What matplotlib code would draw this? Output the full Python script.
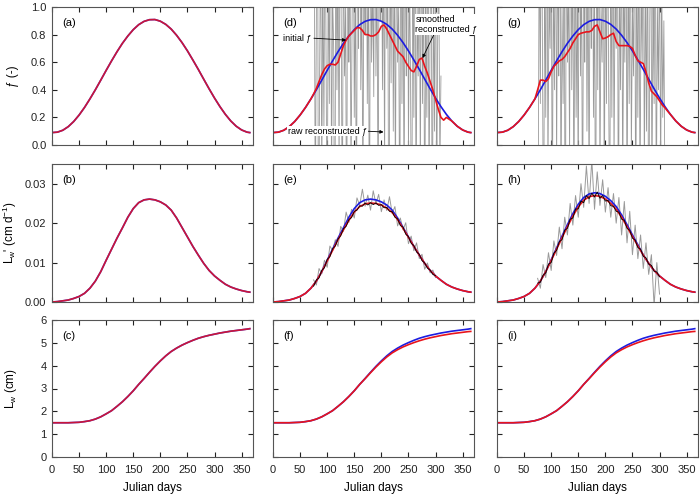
import numpy as np
import matplotlib
matplotlib.use('Agg')
import matplotlib.pyplot as plt

plt.rcParams['font.family'] = ['Liberation Sans', 'DejaVu Sans']
plt.rcParams['mathtext.default'] = 'regular'

# dias julianos (grade de 10 dias + ultimo dia)
julian = np.append(np.arange(0, 361, 10), 365)

# f verdadeiro (paineis a, d, g)
f_true = [0.090, 0.093, 0.107, 0.133, 0.170, 0.217, 0.272, 0.334, 0.400, 0.470,
          0.541, 0.610, 0.676, 0.737, 0.790, 0.836, 0.872, 0.896, 0.908, 0.909,
          0.897, 0.874, 0.840, 0.795, 0.742, 0.682, 0.616, 0.548, 0.477, 0.407,
          0.340, 0.278, 0.222, 0.174, 0.136, 0.109, 0.093, 0.090]

# taxa de crescimento Lw' (cm/d)
lw_rate = [0.0000, 0.0001, 0.0003, 0.0005, 0.0009, 0.0014, 0.0022, 0.0035, 0.0053, 0.0077,
           0.0106, 0.0134, 0.0162, 0.0188, 0.0215, 0.0237, 0.0252, 0.0259, 0.0261, 0.0259,
           0.0254, 0.0246, 0.0233, 0.0213, 0.0189, 0.0165, 0.0141, 0.0119, 0.0098, 0.0080,
           0.0066, 0.0055, 0.0045, 0.0038, 0.0033, 0.0029, 0.0026, 0.0025]

# comprimento Lw (cm)
lw = [1.50, 1.50, 1.50, 1.50, 1.51, 1.52, 1.55, 1.59, 1.66, 1.76,
      1.89, 2.03, 2.22, 2.42, 2.65, 2.90, 3.18, 3.44, 3.71, 3.97,
      4.21, 4.43, 4.62, 4.77, 4.90, 5.01, 5.11, 5.20, 5.27, 5.33,
      5.38, 5.43, 5.47, 5.51, 5.54, 5.57, 5.60, 5.62]
lw_rec = [1.50, 1.50, 1.50, 1.50, 1.51, 1.52, 1.55, 1.59, 1.66, 1.76,
          1.89, 2.03, 2.22, 2.42, 2.65, 2.90, 3.18, 3.43, 3.69, 3.94,
          4.17, 4.38, 4.56, 4.70, 4.82, 4.92, 5.01, 5.09, 5.16, 5.22,
          5.27, 5.32, 5.36, 5.40, 5.43, 5.46, 5.49, 5.50]

# f suavizado reconstruido (janela de 5 dias)
win5 = np.arange(70, 321, 5)
f_smooth_d = [0.334, 0.37, 0.41, 0.46, 0.51, 0.55,
              0.575, 0.585, 0.585, 0.58, 0.60, 0.66, 0.72, 0.76, 0.79, 0.81,
              0.83, 0.85, 0.85, 0.83, 0.80, 0.80, 0.79, 0.79, 0.80, 0.82,
              0.86, 0.87, 0.84, 0.80, 0.76, 0.72, 0.68, 0.66, 0.64, 0.60,
              0.57, 0.54, 0.53, 0.57, 0.62, 0.63, 0.57, 0.52, 0.46, 0.40,
              0.33, 0.26, 0.20, 0.18, 0.20]
f_smooth_g = [0.334, 0.40, 0.47, 0.47, 0.46, 0.48,
              0.53, 0.57, 0.59, 0.61, 0.62, 0.64, 0.67, 0.70, 0.74, 0.77,
              0.80, 0.81, 0.815, 0.82, 0.82, 0.83, 0.86, 0.87, 0.82, 0.77,
              0.775, 0.785, 0.80, 0.81, 0.75, 0.72, 0.72, 0.72, 0.72, 0.715,
              0.70, 0.65, 0.61, 0.60, 0.59, 0.53, 0.45, 0.39, 0.37, 0.35,
              0.32, 0.29, 0.27, 0.245, 0.222]

# f bruto reconstruido (a cada 2 dias)
raw_days = np.arange(76, 311, 2)
raw_f_d = [1.8, -0.6, 0.9, 2.4, -1.2, 0.5, 1.6, -0.3, 1.2, 0.1,
           2.0, 0.6, -0.9, 1.4, 0.3, 2.6, -0.4, 1.1, 0.7, -1.5,
           1.9, 0.4, 1.3, -0.2, 2.2, 0.8, -0.7, 1.7, 0.5, 1.0,
           -1.1, 2.5, 0.6, 1.5, -0.3, 0.9, 2.1, 0.2, 1.2, -0.8,
           1.8, 0.7, 2.9, 0.4, 1.1, -0.5, 1.6, 0.8, 2.3, 0.3,
           1.4, -1.0, 1.9, 0.6, 1.2, 0.35, 2.7, 0.5, 1.3, -0.6,
           1.7, 0.9, 2.0, 0.4, 1.5, -0.2, 2.4, 0.7, 1.1, -1.3,
           1.6, 0.45, 2.2, 0.1, 1.4, -0.4, 1.9, 0.6, 1.0, -0.9,
           2.3, 0.3, 1.2, -0.5, 1.8, 0.5, 2.6, -0.1, 1.3, 0.4,
           -1.2, 1.7, 0.2, 2.1, -0.6, 1.0, 0.5, 1.6, -0.3, 2.0,
           0.3, 1.4, -0.8, 1.1, 0.2, 1.9, -0.4, 0.9, 1.5, -1.0,
           1.2, 0.1, 1.8, -0.5, 0.8, 1.3, -0.2, 0.5]
raw_f_g = [-0.5, 1.7, 0.3, 2.2, 0.6, -1.0, 1.4, 0.2, 2.5, -0.3,
           1.1, 0.7, 1.9, -0.8, 1.3, 0.4, 2.1, -0.2, 1.6, 0.5,
           2.8, -0.6, 1.0, 0.3, 1.7, -1.4, 2.0, 0.6, 1.2, -0.1,
           2.4, 0.4, 1.5, -0.7, 1.8, 0.2, 1.1, -0.4, 2.6, 0.5,
           1.3, -0.9, 1.9, 0.6, 2.2, 0.1, 1.4, -0.5, 1.7, 0.7,
           2.5, 0.2, 1.2, -1.1, 1.8, 0.4, 2.0, -0.3, 1.0, 0.6,
           2.3, -0.6, 1.5, 0.3, 1.9, 0.5, -0.8, 1.6, 0.2, 2.1,
           -0.2, 1.2, 0.7, 2.4, -1.0, 1.3, 0.4, 1.8, -0.4, 1.1,
           0.6, 2.2, -0.7, 1.4, 0.3, 1.9, -0.1, 1.0, 0.5, 2.3,
           -0.9, 1.5, 0.2, 1.7, -0.5, 1.2, 0.6, 2.0, -0.3, 1.3,
           0.1, 1.8, -1.2, 0.9, 1.6, -0.4, 1.1, 0.3, 2.1, -0.6,
           1.0, 0.4, 1.5, -0.3, 1.2, 0.2, 0.9, -0.4]

# Lw' reconstruido perto do pico (janela de 10 dias)
win10 = np.arange(100, 261, 10)
rate_rec_e = [0.0104, 0.0131, 0.0158, 0.0183, 0.0207, 0.0228, 0.0242, 0.0249, 0.0251,
              0.0250, 0.0246, 0.0238, 0.0227, 0.0209, 0.0187, 0.0164, 0.0141]
rate_true_h = [0.0107, 0.0137, 0.0167, 0.0196, 0.0224, 0.0248, 0.0265, 0.0274, 0.0277,
               0.0275, 0.0268, 0.0257, 0.0242, 0.0221, 0.0196, 0.0170, 0.0145]
rate_rec_h = [0.0105, 0.0134, 0.0163, 0.0191, 0.0218, 0.0241, 0.0258, 0.0267, 0.0270,
              0.0268, 0.0261, 0.0250, 0.0235, 0.0215, 0.0191, 0.0166, 0.0142]

# Lw' com ruido (a cada 5 dias)
noisy_days = np.arange(75, 301, 5)
gray_e = [0.0056, 0.0043, 0.0085, 0.0071, 0.0106, 0.0088, 0.0142, 0.0130, 0.0158, 0.0141,
          0.0192, 0.0179, 0.0228, 0.0202, 0.0235, 0.0213, 0.0264, 0.0245, 0.0286, 0.0243,
          0.0271, 0.0233, 0.0282, 0.0249, 0.0273, 0.0229, 0.0259, 0.0232, 0.0267, 0.0225,
          0.0242, 0.0193, 0.0213, 0.0183, 0.0201, 0.0148, 0.0167, 0.0130, 0.0150, 0.0110,
          0.0121, 0.0083, 0.0099, 0.0074, 0.0081, 0.0062]
black_e = [0.0040, 0.0056, 0.0061, 0.0080, 0.0087, 0.0108, 0.0115, 0.0135, 0.0142, 0.0160,
           0.0168, 0.0186, 0.0192, 0.0209, 0.0214, 0.0230, 0.0233, 0.0244, 0.0243, 0.0251,
           0.0246, 0.0252, 0.0247, 0.0251, 0.0245, 0.0247, 0.0239, 0.0240, 0.0230, 0.0229,
           0.0215, 0.0211, 0.0194, 0.0190, 0.0172, 0.0166, 0.0149, 0.0143, 0.0127, 0.0121,
           0.0105, 0.0099, 0.0086, 0.0081, 0.0070, 0.0067]
gray_h = [0.0060, 0.0035, 0.0095, 0.0062, 0.0125, 0.0080, 0.0155, 0.0118, 0.0190, 0.0135,
          0.0215, 0.0170, 0.0250, 0.0195, 0.0270, 0.0215, 0.0300, 0.0240, 0.0345, 0.0250,
          0.0360, 0.0235, 0.0330, 0.0245, 0.0310, 0.0228, 0.0290, 0.0215, 0.0275, 0.0200,
          0.0265, 0.0170, 0.0255, 0.0150, 0.0230, 0.0120, 0.0195, 0.0110, 0.0170, 0.0085,
          0.0150, 0.0070, 0.0120, -0.0010, 0.0100, 0.0020]
black_h = [0.0048, 0.0050, 0.0068, 0.0074, 0.0096, 0.0100, 0.0124, 0.0131, 0.0153, 0.0158,
           0.0182, 0.0187, 0.0210, 0.0213, 0.0236, 0.0236, 0.0256, 0.0252, 0.0270, 0.0262,
           0.0276, 0.0266, 0.0279, 0.0263, 0.0270, 0.0256, 0.0258, 0.0244, 0.0243, 0.0230,
           0.0228, 0.0210, 0.0207, 0.0187, 0.0182, 0.0162, 0.0157, 0.0138, 0.0134, 0.0116,
           0.0112, 0.0096, 0.0093, 0.0078, 0.0076, 0.0064]

AZUL = '#1c1ce0'
VERM = '#e8141c'
CINZA = '#9a9a9a'


def emendar(win_days, win_vals, base):
    # junta a serie base (fora da janela) com os valores da janela
    d = np.asarray(julian)
    b = np.asarray(base)
    lo = d < win_days[0]
    hi = d > win_days[-1]
    x = np.concatenate([d[lo], win_days, d[hi]])
    y = np.concatenate([b[lo], win_vals, b[hi]])
    return x, y


fig = plt.figure(figsize=(7.0, 4.96), dpi=100)

esq = [52, 273, 497]
topo = [7, 164, 320]
alt = [138, 138, 137]
larg = 201

axs = []
for r in range(3):
    linha = []
    for c in range(3):
        ax = fig.add_axes([esq[c] / 700, 1 - (topo[r] + alt[r]) / 496, larg / 700, alt[r] / 496])
        linha.append(ax)
    axs.append(linha)

letras = [['(a)', '(d)', '(g)'], ['(b)', '(e)', '(h)'], ['(c)', '(f)', '(i)']]

# linha 1: f
axs[0][0].plot(julian, f_true, color=AZUL, lw=1.2)
axs[0][0].plot(julian, f_true, color=VERM, lw=1.2, alpha=0.85)
for ax, raw, sm in [(axs[0][1], raw_f_d, f_smooth_d), (axs[0][2], raw_f_g, f_smooth_g)]:
    ax.plot(raw_days, raw, color=CINZA, lw=0.6)
    ax.plot(julian, f_true, color=AZUL, lw=1.2)
    x, y = emendar(win5, sm, f_true)
    ax.plot(x, y, color=VERM, lw=1.2)

# linha 2: Lw'
axs[1][0].plot(julian, lw_rate, color=AZUL, lw=1.2)
axs[1][0].plot(julian, lw_rate, color=VERM, lw=1.2, alpha=0.85)

ax = axs[1][1]
ax.plot(noisy_days, gray_e, color=CINZA, lw=0.7)
ax.plot(julian, lw_rate, color=AZUL, lw=1.2)
x, y = emendar(win10, rate_rec_e, lw_rate)
ax.plot(x, y, color=VERM, lw=1.2)
ax.plot(noisy_days, black_e, color='black', lw=0.6)

ax = axs[1][2]
ax.plot(noisy_days, gray_h, color=CINZA, lw=0.7)
x, y = emendar(win10, rate_true_h, lw_rate)
ax.plot(x, y, color=AZUL, lw=1.2)
x, y = emendar(win10, rate_rec_h, lw_rate)
ax.plot(x, y, color=VERM, lw=1.2)
ax.plot(noisy_days, black_h, color='black', lw=0.6)

# linha 3: Lw
axs[2][0].plot(julian, lw, color=AZUL, lw=1.2)
axs[2][0].plot(julian, lw, color=VERM, lw=1.2, alpha=0.85)
for ax in axs[2][1:]:
    ax.plot(julian, lw, color=AZUL, lw=1.2)
    ax.plot(julian, lw_rec, color=VERM, lw=1.2)

# eixos
ylims = [(0, 1.0), (0, 0.035), (0, 6)]
yticks = [np.arange(0, 1.01, 0.2), [0, 0.01, 0.02, 0.03], np.arange(0, 7, 1)]
yfmt = ['{:.1f}', '{:.2f}', '{:.0f}']
for r in range(3):
    for c in range(3):
        ax = axs[r][c]
        ax.set_xlim(0, 371)
        ax.set_ylim(*ylims[r])
        ax.set_xticks(np.arange(0, 351, 50))
        ax.set_yticks(yticks[r])
        ax.tick_params(direction='in', top=True, right=True, length=3.5, width=0.8,
                       labelsize=8, colors='#222222', pad=4)
        ax.tick_params(axis='x', pad=6)
        for s in ax.spines.values():
            s.set_color('#555555')
            s.set_linewidth(0.8)
        if c == 0:
            ax.set_yticklabels([yfmt[r].format(v) for v in yticks[r]])
        else:
            ax.set_yticklabels([])
        if r == 2:
            ax.set_xlabel('Julian days', fontsize=8.5, labelpad=5)
        else:
            ax.set_xticklabels([])
        ax.text(0.05, 0.885, letras[r][c], transform=ax.transAxes, fontsize=8, va='center')

rotulos = ['ƒ (-)', "L$_w$' (cm d$^{-1}$)", 'L$_w$ (cm)']
for r in range(3):
    axs[r][0].set_ylabel(rotulos[r], fontsize=8.5)
    axs[r][0].yaxis.set_label_coords(-0.165, 0.5)

# anotacoes no painel (d)
ax = axs[0][1]
seta = dict(arrowstyle='-|>', color='black', lw=0.6, mutation_scale=5, shrinkA=0, shrinkB=0)
fundo = dict(facecolor='white', edgecolor='none', pad=0.5)
ax.annotate('initial ƒ', xy=(135, 0.76), xytext=(18, 0.775), fontsize=6.5, ha='left', va='center',
            arrowprops=dict(seta, relpos=(1, 0.5)), zorder=5)
ax.annotate('smoothed\nreconstructed ƒ', xy=(276, 0.63), xytext=(263, 0.945), fontsize=6.5,
            ha='left', va='top', bbox=fundo, arrowprops=dict(seta, relpos=(0.3, 0)), zorder=5)
ax.annotate('raw reconstructed ƒ', xy=(204, 0.094), xytext=(28, 0.10), fontsize=6.5, ha='left',
            va='center', bbox=fundo, arrowprops=dict(seta, relpos=(1, 0.5)), zorder=5)

plt.savefig('out.png', dpi=100)
